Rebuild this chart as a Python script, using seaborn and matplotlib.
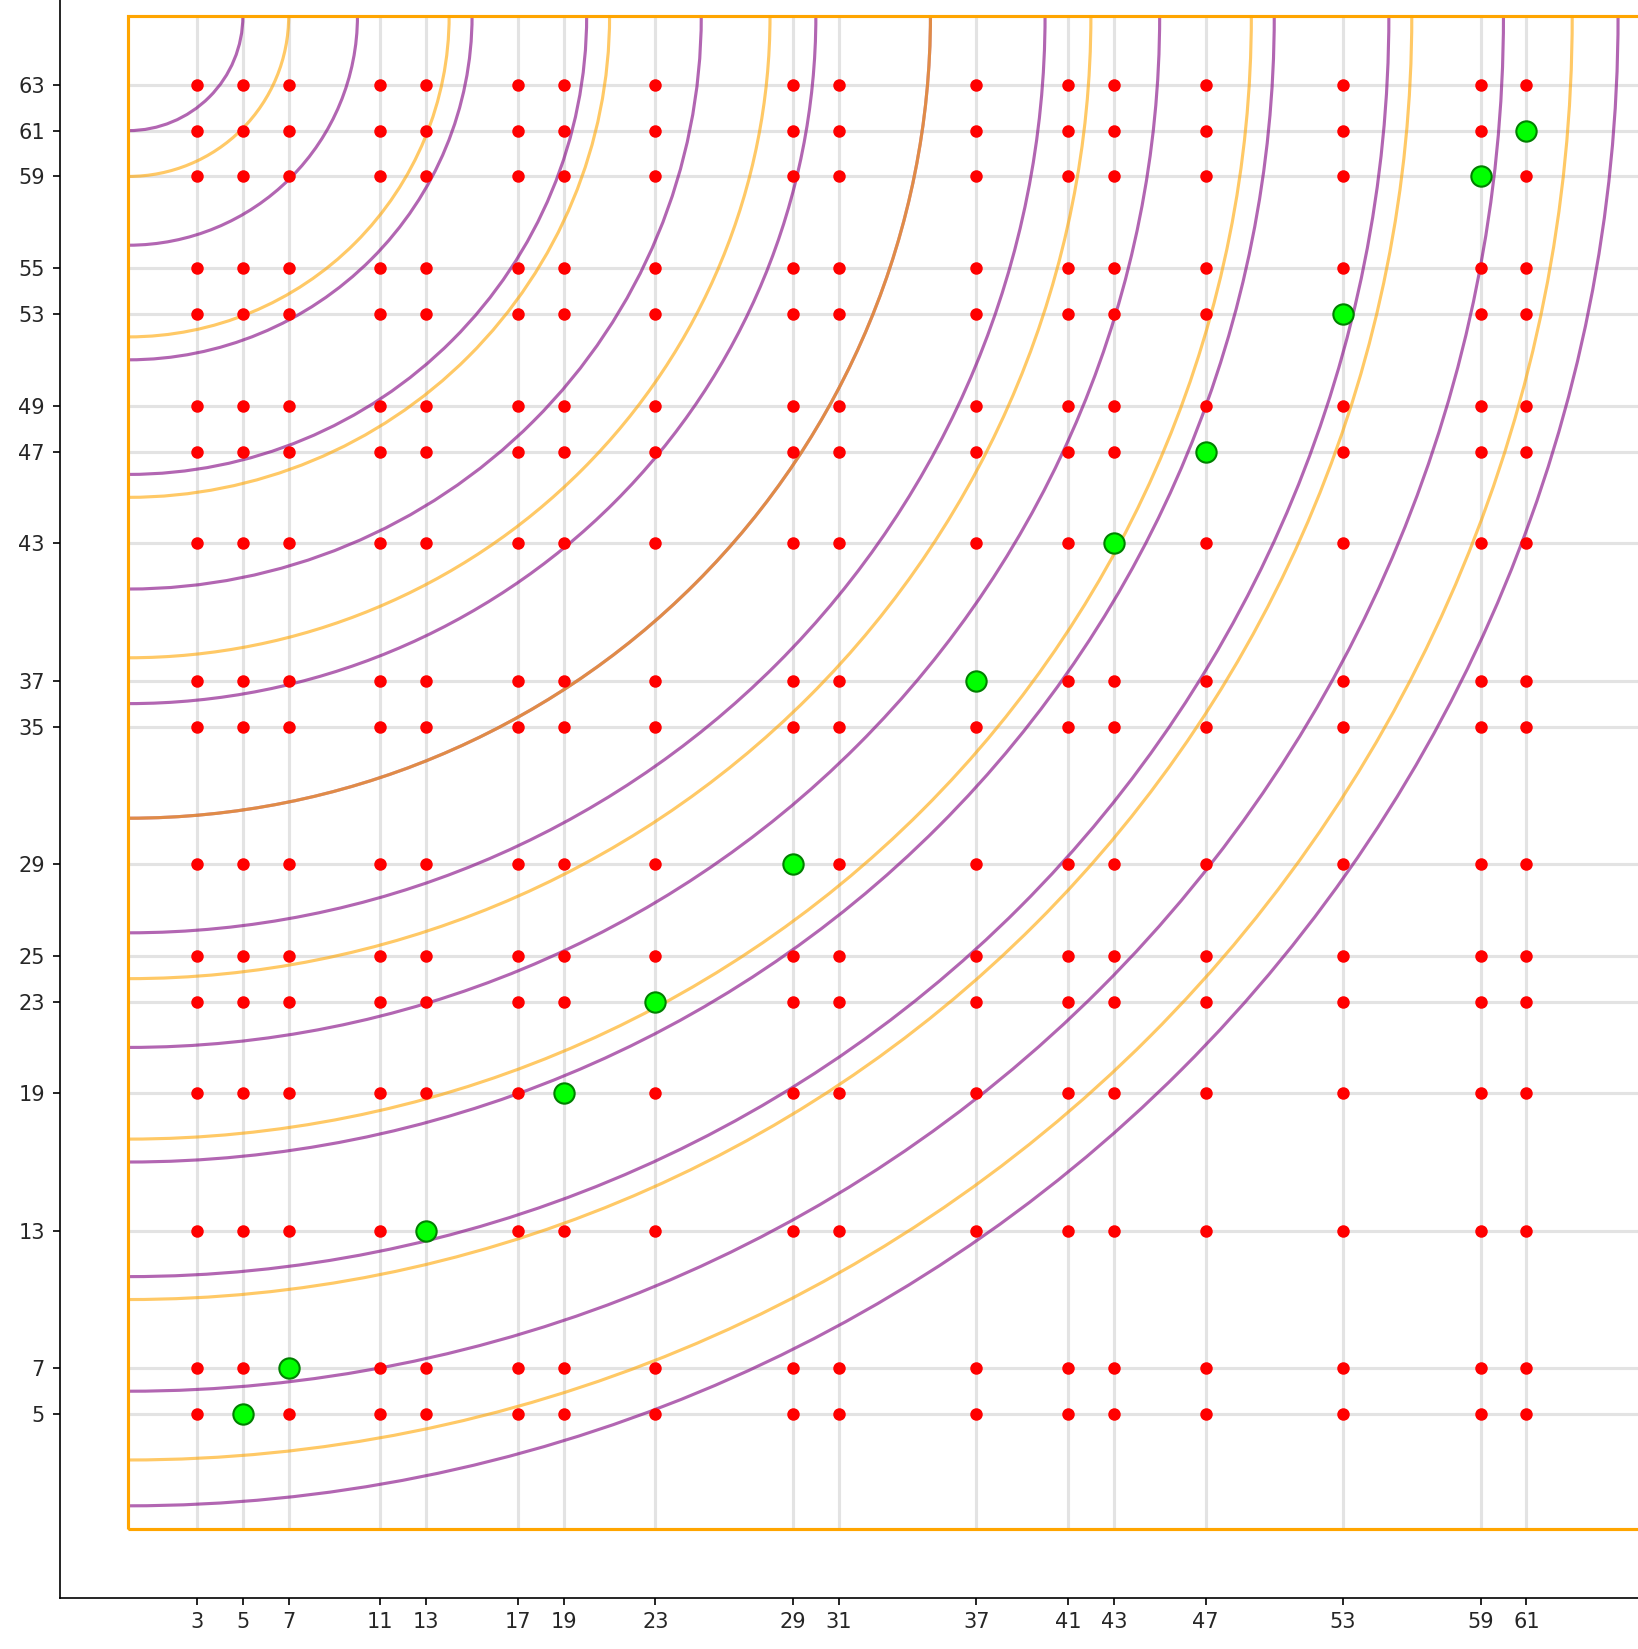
import numpy as np
import pandas as pd
import matplotlib
matplotlib.use("Agg")
import matplotlib.pyplot as plt
from matplotlib.patches import Arc, Rectangle
import seaborn as sns

X_VALUES = [3, 5, 7, 11, 13, 17, 19, 23, 29, 31, 37, 41, 43, 47, 53, 59, 61]
Y_VALUES = [5, 7, 13, 19, 23, 25, 29, 35, 37, 43, 47, 49, 53, 55, 59, 61, 63]
RADII_5 = [5, 10, 15, 20, 25, 30, 35, 40, 45, 50, 55, 60, 65]
RADII_7 = [7, 14, 21, 28, 35, 42, 49, 56, 63]
SIDE = 66


def main() -> None:
    sns.set_style("white")
    plt.rcParams["font.family"] = ["DejaVu Sans"]

    fig = plt.figure(figsize=(1638 / 150, 1649 / 150), dpi=150)
    ax = fig.add_axes([59.5 / 1638, 51.5 / 1649, 69 * 22.92 / 1638, 70 * 22.92 / 1649])

    # grid lines only inside the square
    ax.vlines(X_VALUES, 0, SIDE, color="#e3e3e3", lw=1.5, zorder=1)
    ax.hlines(Y_VALUES, 0, SIDE, color="#e3e3e3", lw=1.5, zorder=1)

    # quarter circles around the top-left corner
    for r in RADII_5:
        ax.add_patch(Arc((0, SIDE), 2 * r, 2 * r, theta1=270, theta2=360, color="purple", alpha=0.6, lw=1.5, zorder=2))
    for r in RADII_7:
        ax.add_patch(Arc((0, SIDE), 2 * r, 2 * r, theta1=270, theta2=360, color="orange", alpha=0.6, lw=1.5, zorder=2))

    ax.add_patch(Rectangle((0, 0), SIDE, SIDE, fill=False, edgecolor="orange", lw=1.5, zorder=3))

    gx, gy = np.meshgrid(X_VALUES, Y_VALUES)
    pts = pd.DataFrame({"x": gx.ravel(), "y": gy.ravel()})
    same = pts["x"] == pts["y"]

    sns.scatterplot(data=pts[~same], x="x", y="y", color="red", s=36, linewidth=0, ax=ax, zorder=4)
    sns.scatterplot(data=pts[same], x="x", y="y", color="lime", s=95, edgecolor="green", linewidth=1.0, ax=ax, zorder=5)

    ax.set_xlim(-3, 66)
    ax.set_ylim(-3, 67)
    ax.set_xticks(X_VALUES)
    ax.set_yticks(Y_VALUES)
    ax.set_xlabel("")
    ax.set_ylabel("")
    ax.tick_params(axis="both", length=3.5, width=0.8, labelsize=10, color="black", bottom=True, left=True)
    for side in ("top", "right"):
        ax.spines[side].set_visible(False)
    for side in ("left", "bottom"):
        ax.spines[side].set_color("black")
        ax.spines[side].set_linewidth(0.8)

    fig.savefig("out.png", dpi=150)


if __name__ == "__main__":
    main()
